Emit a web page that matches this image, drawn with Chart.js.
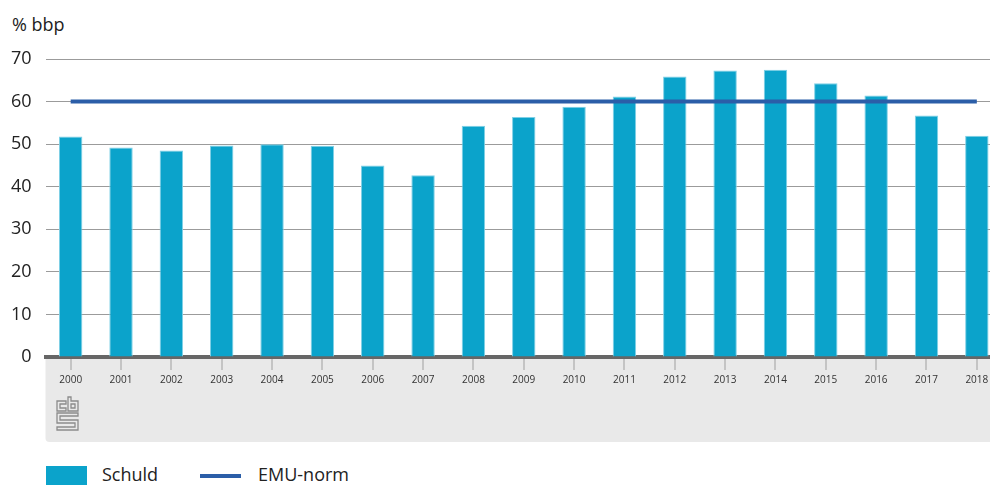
<!DOCTYPE html>
<html>
<head>
<meta charset="utf-8">
<script src="https://cdn.jsdelivr.net/npm/chart.js@4"></script>
<style>
  html, body { margin:0; padding:0; width:990px; height:485px; overflow:hidden; background:#fff; }
  body { position:relative; font-family:"Open Sans", sans-serif; color:#222; }
  #wrap { position:absolute; left:0; top:0; width:1002px; height:442px; }
  .unit { position:absolute; left:12px; top:12px; font-size:18px; line-height:24px; }
  .lg { position:absolute; font-size:18px; line-height:22px; top:463px; }
  .sw { position:absolute; left:46px; top:466px; width:41px; height:22px; background:#0ba3cb; }
  .ln { position:absolute; left:200px; top:474px; width:41px; height:4px; background:#2b5ea8; }
</style>
</head>
<body>
<div class="unit">% bbp</div>
<div id="wrap"><canvas id="chart" width="1002" height="442"></canvas></div>
<div class="sw"></div><div class="lg" style="left:102px">Schuld</div>
<div class="ln"></div><div class="lg" style="left:258px">EMU-norm</div>

<script>
// ---- data ------------------------------------------------
const years  = ["2000","2001","2002","2003","2004","2005","2006","2007","2008","2009",
                "2010","2011","2012","2013","2014","2015","2016","2017","2018"];
const schuld = [51.8, 49.2, 48.5, 49.7, 50.0, 49.6, 45.0, 42.7, 54.3, 56.4,
                58.8, 61.2, 65.9, 67.3, 67.5, 64.3, 61.4, 56.7, 52.0];
const emuNorm = years.map(() => 60);
// ---------------------------------------------------------

// grey band under the x axis + cbs logo
const axisBand = {
  id: "axisBand",
  beforeDraw(chart) {
    const { ctx, chartArea } = chart;
    const x0 = chartArea.left, y0 = chartArea.bottom + 2, x1 = chart.width, y1 = 442, r = 4;
    ctx.save();
    ctx.fillStyle = "#e9e9e9";
    ctx.beginPath();
    ctx.moveTo(x0, y0);
    ctx.lineTo(x1, y0);
    ctx.lineTo(x1, y1);
    ctx.lineTo(x0 + r, y1);
    ctx.quadraticCurveTo(x0, y1, x0, y1 - r);
    ctx.closePath();
    ctx.fill();

    // logo (outline letters c b s)
    ctx.strokeStyle = "#8c8c8c";
    ctx.lineWidth = 1.3;
    const poly = pts => {
      ctx.beginPath();
      pts.forEach((p, i) => i ? ctx.lineTo(p[0], p[1]) : ctx.moveTo(p[0], p[1]));
      ctx.closePath();
      ctx.stroke();
    };
    poly([[57,401],[66,401],[66,404],[60,404],[60,408],[66,408],[66,411],[57,411]]);
    poly([[68,397],[71,397],[71,401],[78,401],[78,411],[68,411]]);
    poly([[71,404],[75,404],[75,408],[71,408]]);
    poly([[57,413],[78,413],[78,416],[60,416],[60,420],[78,420],[78,430],[57,430],[57,427],[75,427],[75,423],[57,423]]);
    ctx.restore();
  }
};

const ctx = document.getElementById("chart").getContext("2d");
new Chart(ctx, {
  data: {
    labels: years,
    datasets: [
      { type:"line", label:"EMU-norm", data:emuNorm, borderColor:"#2b5ea8", borderWidth:4,
        pointRadius:0, fill:false, order:0, borderCapStyle:"butt" },
      { type:"bar", label:"Schuld", data:schuld, backgroundColor:"#0ba3cb",
        borderColor:"#7fd0e6", borderWidth:{top:1, left:1, right:1, bottom:0},
        categoryPercentage:1, barPercentage:0.465, order:1 }
    ]
  },
  options: {
    responsive:false,
    animation:false,
    layout:{ padding:{ top:59, right:0, left:0, bottom:0 } },
    plugins:{ legend:{ display:false }, tooltip:{ enabled:false } },
    scales:{
      x:{
        offset:true,
        afterFit: s => { s.height = 85; },
        grid:{ offset:false, drawOnChartArea:false, drawTicks:true, tickLength:13,
               color:"#c4c4c4", lineWidth:2 },
        border:{ display:true, color:"#666", width:4 },
        ticks:{ font:{ family:"Open Sans", size:10 }, color:"#333", padding:4, maxRotation:0, autoSkip:false }
      },
      y:{
        min:0, max:70,
        afterFit: s => { s.width = 45.5; },
        grid:{ color:"#9b9b9b", lineWidth:1, drawTicks:false },
        border:{ display:false },
        ticks:{ stepSize:10, font:{ family:"Open Sans", size:18 }, color:"#222", padding:14 }
      }
    }
  },
  plugins:[axisBand]
});
</script>
</body>
</html>
